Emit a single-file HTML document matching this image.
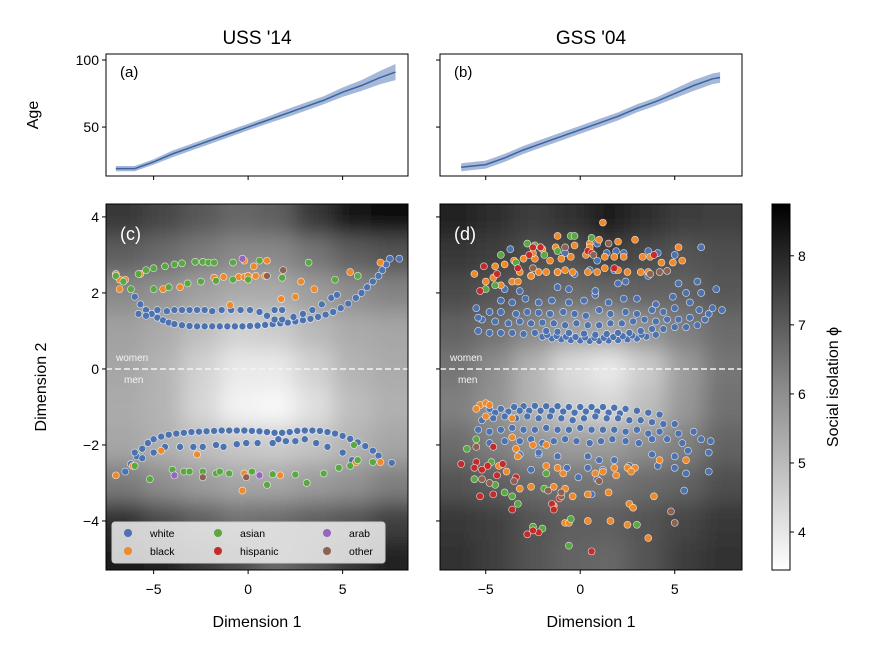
<!DOCTYPE html>
<html><head><meta charset="utf-8"><style>
html,body{margin:0;padding:0;background:#fff;}
svg{display:block;font-family:"Liberation Sans","DejaVu Sans",sans-serif;}
</style></head><body>
<svg id="fig" width="870" height="654" viewBox="0 0 870 654" xmlns="http://www.w3.org/2000/svg">
<defs>
<clipPath id="clipC"><rect x="106" y="204" width="302" height="366"/></clipPath>
<clipPath id="clipD"><rect x="440" y="204" width="302" height="366"/></clipPath>
<filter id="blur" filterUnits="userSpaceOnUse" x="0" y="100" width="870" height="554"><feGaussianBlur stdDeviation="11"/></filter>
<linearGradient id="cbgrad" x1="0" y1="1" x2="0" y2="0"><stop offset="0" stop-color="#ffffff"/><stop offset="0.5" stop-color="#8a8a8a"/><stop offset="1" stop-color="#000000"/></linearGradient>
</defs>
</svg>
<script>
// ---- data ----
const heatRowsY = [4,3,2,1,0,-1,-2,-3,-4,-5];
const heatColsX = [-6.5,-4.5,-2.5,-0.5,1.5,3.5,5.5,7.5];
const heatC = [
[7.6,7.3,6.9,6.6,6.8,7.6,8.3,8.6],
[6.8,6.5,6.2,5.9,5.9,6.3,6.8,7.0],
[5.9,5.7,5.4,5.2,5.2,5.5,5.8,6.0],
[5.4,5.2,4.8,4.4,4.5,4.9,5.2,5.3],
[5.3,5.0,4.4,3.9,3.9,4.4,5.0,5.2],
[5.2,5.0,4.3,3.7,3.6,4.1,4.8,5.1],
[5.3,5.1,4.8,4.6,4.5,4.7,5.0,5.3],
[6.2,5.8,5.5,5.3,5.3,5.5,5.7,6.1],
[7.8,7.2,6.8,6.4,6.5,6.8,7.0,7.4],
[8.2,8.0,7.6,7.2,6.6,7.0,7.6,8.0]];
const heatD = [
[8.0,7.8,7.5,7.7,8.2,7.8,7.5,7.4],
[7.6,7.4,7.1,7.1,7.4,7.2,7.0,7.1],
[7.2,7.0,6.7,6.5,6.6,6.7,6.7,6.9],
[6.7,6.4,5.9,5.4,5.3,5.7,6.1,6.5],
[6.3,5.8,5.0,4.2,3.9,4.5,5.5,6.3],
[6.1,5.7,5.0,4.5,4.3,4.8,5.6,6.4],
[6.5,6.1,5.7,5.5,5.5,5.8,6.1,6.7],
[7.0,6.8,6.5,6.3,6.3,6.5,6.7,7.1],
[7.6,7.4,7.0,6.8,6.8,7.0,7.3,7.6],
[7.7,7.4,7.0,6.7,6.6,7.0,7.5,7.7]];

const ageXA = [-7,-6,-5,-4,-3,-2,-1,0,1,2,3,4,5,6,7,7.8];
const ageYA = [19,19,24,30,35,40,45,50,55,60,65,70,76,81,87,91];
const ageErrA = [2,2,2,2.5,2.5,2.5,2.5,2.5,2.5,3,3,3,3.5,4,5,6];
const ageXB = [-6.3,-5,-4,-3,-2,-1,0,1,2,3,4,5,6,7,7.4];
const ageYB = [20,22,27,33,38,43,48,53,58,64,69,75,81,86,87];
const ageErrB = [3,3,3,3,3,3,3,3,3,3,3,3.5,4,4,4];

const xTicks = [-5,0,5];
const yTicksBottom = [4,2,0,-2,-4];
const yTicksTop = [50,100];
const cbTicks = [4,5,6,7,8];

const cWhite = [[-6.0,1.9],[-5.7,1.7],[-5.4,1.55],[-5.1,1.45],[-4.8,1.35],[-4.5,1.28],[-4.2,1.22],[-3.9,1.18],[-3.5,1.15],[-3.1,1.13],[-2.7,1.12],[-2.3,1.12],[-1.9,1.12],[-1.5,1.12],[-1.1,1.12],[-0.7,1.12],[-0.3,1.12],[0.1,1.13],[0.5,1.14],[0.9,1.16],[1.3,1.18],[1.7,1.2],[2.1,1.22],[2.5,1.25],[2.9,1.28],[3.3,1.32],[3.7,1.37],[4.1,1.43],[4.5,1.5],[4.9,1.6],[5.3,1.72],[5.7,1.87],[6.0,2.0],[6.3,2.15],[6.6,2.3],[6.9,2.45],[7.1,2.6],[7.3,2.75],[7.5,2.9],[8.0,2.9],
[-5.8,1.45],[-5.4,1.4],[-4.8,1.55],[-4.3,1.52],[-3.9,1.55],[-3.5,1.55],[-3.1,1.55],[-2.7,1.55],[-2.3,1.55],[-1.9,1.52],[-1.4,1.55],[-0.9,1.55],[-0.4,1.55],[0.1,1.55],[0.6,1.5],[1.0,1.4],[1.4,1.55],[1.8,1.55],[1.4,1.3],[1.8,1.3],[2.4,1.37],[2.9,1.45],[3.4,1.55],[3.9,1.7],[4.4,1.87],[4.7,1.95],
[-6.5,-2.7],[-6.2,-2.5],[-5.9,-2.3],[-5.6,-2.1],[-5.3,-1.95],[-5.0,-1.85],[-4.6,-1.78],[-4.2,-1.73],[-3.8,-1.7],[-3.4,-1.68],[-3.0,-1.66],[-2.6,-1.65],[-2.2,-1.64],[-1.8,-1.63],[-1.4,-1.62],[-1.0,-1.62],[-0.6,-1.62],[-0.2,-1.62],[0.2,-1.63],[0.6,-1.64],[1.0,-1.66],[1.4,-1.68],[1.8,-1.68],[2.2,-1.66],[2.6,-1.63],[3.0,-1.62],[3.4,-1.62],[3.8,-1.63],[4.2,-1.66],[4.6,-1.7],[5.0,-1.76],[5.4,-1.84],[5.8,-1.93],[6.2,-2.03],[6.6,-2.15],[6.9,-2.28],[7.6,-2.47],
[-6.0,-2.2],[-5.6,-2.35],[-5.0,-2.2],[-4.4,-2.05],[-3.6,-2.05],[-2.9,-2.05],[-2.4,-2.05],[-1.7,-2.0],[-1.3,-2.05],[-0.6,-1.98],[-0.1,-1.95],[0.5,-1.95],[1.3,-1.95],[1.6,-1.85],[2.0,-1.9],[2.5,-1.9],[3.0,-1.85],[3.6,-1.95],[4.2,-2.05],[5.0,-2.2],[5.5,-2.4]];
const cBlack = [[-7.0,2.5],[-6.8,2.35],[-6.5,2.35],[-6.8,2.1],[-5.7,2.5],[-4.5,2.1],[-3.6,2.15],[-1.8,2.4],[-1.3,2.42],[-0.5,2.42],[-0.2,2.42],[0.0,2.45],[0.4,2.45],[0.9,2.45],[1.0,2.85],[-0.2,2.85],[0.3,2.7],[2.8,2.3],[3.5,2.1],[5.4,2.55],[7.0,2.8],[-0.95,1.68],[1.75,1.84],[2.5,1.9],
[-7.0,-2.8],[-6.1,-2.55],[-4.6,-2.15],[-2.7,-2.25],[-0.3,-3.2],[-0.2,-2.75],[1.7,-2.8],[5.7,-2.45],[7.0,-2.45]];
const cAsian = [[-7.0,2.45],[-6.6,2.3],[-5.8,2.5],[-5.4,2.6],[-5.0,2.65],[-4.4,2.7],[-3.9,2.75],[-3.5,2.78],[-2.8,2.82],[-2.4,2.82],[-2.1,2.8],[-1.8,2.8],[-0.8,2.8],[0.6,2.85],[-6.2,2.1],[-5.0,2.1],[-4.2,2.15],[-3.2,2.25],[-2.5,2.3],[-1.7,2.32],[-0.8,2.35],[0.0,2.35],[1.8,2.4],[3.2,2.8],[4.6,2.35],[5.8,2.45],
[-6.0,-2.55],[-5.2,-2.9],[-4.0,-2.65],[-3.4,-2.7],[-3.1,-2.7],[-2.4,-2.7],[-1.7,-2.75],[-1.5,-2.7],[-1.0,-2.75],[0.2,-2.7],[1.0,-3.05],[1.3,-2.77],[2.5,-2.78],[3.1,-3.0],[4.0,-2.75],[4.8,-2.6],[5.4,-2.55],[5.6,-2.0],[5.8,-2.4],[6.6,-2.45]];
const cHisp = [];
const cArab = [[-0.3,2.9],[-3.9,-2.8],[0.6,-2.8]];
const cOther = [[1.0,2.45],[1.85,2.6],[-2.4,-2.85],[-0.1,-2.85]];

const dWhite = [[-2,0.85],[-1.5,0.8],[-1,0.78],[-0.5,0.76],[0,0.75],[0.5,0.74],[1,0.74],[1.5,0.75],[2,0.76],[2.5,0.78],[3,0.8],[3.5,0.85],[4,0.9],
[-1.75,0.9],[-1.25,0.87],[-0.75,0.85],[-0.25,0.84],[0.25,0.83],[0.75,0.82],[1.25,0.82],[1.75,0.84],[2.25,0.86],[2.75,0.88],[3.25,0.9],
[-5.4,1.0],[-4.8,0.95],[-4.2,0.95],[-3.6,0.95],[-3,0.92],[-2.4,0.95],[-1.8,1.0],[-1.2,0.98],[-0.6,0.95],[0.2,0.93],[0.8,0.9],[1.4,0.92],[2.0,0.95],[2.6,0.95],[3.2,1.0],[3.8,1.05],[4.4,1.05],[5,1.1],[5.6,1.1],[6.2,1.15],[6.6,1.3],
[-5.2,1.3],[-4.5,1.25],[-3.8,1.2],[-3.2,1.25],[-2.6,1.2],[-2,1.22],[-1.4,1.2],[-0.8,1.15],[-0.2,1.2],[0.4,1.15],[1,1.15],[1.6,1.2],[2.2,1.2],[2.8,1.25],[3.4,1.3],[4,1.25],[4.6,1.3],[5.2,1.3],[5.8,1.35],[6.8,1.45],
[-5.5,1.6],[-4.8,1.5],[-4.2,1.5],[-3.4,1.45],[-2.8,1.5],[-2.2,1.48],[-1.6,1.45],[-0.9,1.5],[-0.3,1.45],[0.3,1.4],[1.0,1.55],[1.6,1.45],[2.4,1.5],[3.0,1.45],[3.8,1.55],[4.4,1.5],[5,1.6],[5.8,1.75],[6.3,1.55],[7.0,1.6],[7.5,1.55],
[-4.2,1.8],[-3.6,1.75],[-2.9,1.85],[-2.2,1.75],[-1.5,1.8],[-0.6,1.75],[0.2,1.8],[0.8,1.95],[1.5,1.75],[2.3,1.85],[3,1.85],[4.0,1.7],[4.9,1.9],[5.6,2.0],[6.4,2.0],[7.2,2.1],
[-3.2,2.05],[-4.0,2.1],[-1.2,2.15],[-0.6,2.1],[0.8,2.05],[2.0,2.25],[2.4,2.3],[-2.6,2.45],[-1.2,2.55],[-0.3,2.5],[0.5,2.6],[1.8,2.6],[3.6,2.45],[5.2,2.25],[6.2,2.3],[0.9,2.85],[-0.8,3.05],[-3.7,3.15],[1.4,3.05],[2.3,3.05],[3.6,3.1],[4.1,3.05],[6.4,3.2],[5.0,3.0],[-5.4,1.35],[1.9,3.1],[0.9,3.3],
[-4.8,-1.05],[-4.2,-1.05],[-3.5,-1.0],[-3.0,-0.98],[-2.4,-0.97],[-1.8,-0.98],[-1.2,-0.98],[-0.6,-1.0],[0,-1.0],[0.6,-1.0],[1.2,-1.0],[1.8,-1.02],[2.4,-1.05],[3.0,-1.1],[3.6,-1.15],[4.2,-1.2],
[-4.5,-1.15],[-3.8,-1.12],[-3.2,-1.1],[-2.7,-1.1],[-2.1,-1.1],[-1.5,-1.1],[-0.9,-1.12],[-0.3,-1.15],[0.3,-1.12],[0.9,-1.12],[1.5,-1.15],[2.1,-1.17],
[-5.2,-1.35],[-4.6,-1.3],[-4.0,-1.25],[-3.4,-1.3],[-2.8,-1.25],[-2.2,-1.3],[-1.6,-1.25],[-1.0,-1.3],[-0.4,-1.35],[0.2,-1.3],[0.8,-1.25],[1.4,-1.3],[2.0,-1.3],[2.6,-1.35],[3.2,-1.35],[3.8,-1.4],[4.4,-1.45],[5.0,-1.45],
[-5.4,-1.6],[-4.8,-1.65],[-4.2,-1.6],[-3.6,-1.55],[-3.0,-1.6],[-2.4,-1.6],[-1.8,-1.55],[-1.2,-1.6],[-0.6,-1.6],[0.0,-1.55],[0.6,-1.6],[1.2,-1.6],[1.8,-1.6],[2.4,-1.65],[3.0,-1.6],[3.6,-1.7],[4.2,-1.65],[5.2,-1.7],[6.0,-1.65],
[-4.8,-1.95],[-4.0,-1.9],[-3.2,-1.9],[-2.6,-1.85],[-2.0,-1.95],[-1.4,-1.9],[-0.8,-1.85],[-0.2,-1.9],[0.5,-1.95],[1.1,-1.9],[1.7,-1.85],[2.4,-1.9],[3.1,-1.95],[3.8,-1.85],[4.6,-1.85],[5.4,-1.95],[6.4,-1.85],[6.9,-1.9],
[-3.2,-2.25],[-2.2,-2.25],[-1.2,-2.3],[0.4,-2.3],[1.0,-2.4],[1.8,-2.4],[3.8,-2.25],[5.0,-2.3],[5.7,-2.15],[6.8,-2.2],
[-2.6,-2.65],[-0.7,-2.6],[0.4,-2.6],[1.2,-2.65],[2.6,-2.55],[4.1,-2.55],[5.6,-2.75],[6.8,-2.7],[-0.1,-2.85],[0.9,-2.9],[5.0,-2.6],[-2.2,-2.2],[5.5,-3.2],[0.6,-3.3]];
const dBlack = [[-5.6,2.5],[-5.0,2.3],[-4.6,2.4],[-4.2,2.2],[-3.6,2.3],[-3.3,2.3],[-4.5,2.7],[-4.0,2.75],[-3.2,2.55],[-2.6,2.45],[-2.2,2.55],[-1.8,2.55],[-1.2,2.55],[-0.8,2.6],[-0.4,2.55],[0.4,2.55],[0.9,2.55],[1.3,2.65],[2.0,2.6],[2.5,2.55],[3.2,2.55],[3.6,2.55],[4.3,2.8],[4.9,2.8],[5.4,2.85],[-3.0,2.9],[-2.4,2.9],[-1.6,2.85],[-0.5,2.95],[0.3,3.0],[1.3,2.95],[1.8,2.95],[2.3,2.95],[3.3,2.95],[3.7,2.95],[-2.0,3.15],[-1.3,3.2],[-0.3,3.25],[0.5,3.3],[2.0,3.35],[2.9,3.4],[5.2,3.2],[-1.2,3.5],[1.0,3.4],[1.2,3.85],[0.5,3.2],[-2.5,3.05],[-3.5,2.85],[-1.0,2.9],
[-5.3,-0.95],[-5.0,-0.9],[-4.8,-0.95],[-5.5,-1.05],[-5.0,-1.25],[-3.6,-1.3],[-3.6,-1.8],[-3.4,-2.1],[-2.5,-2.0],[-1.8,-2.0],[-4.3,-2.55],[-3.9,-2.7],[-3.2,-3.15],[-2.6,-3.1],[-1.8,-2.55],[-1.2,-2.6],[-0.9,-2.75],[-0.8,-3.15],[-0.4,-3.35],[-1.4,-3.1],[0.4,-3.3],[0.8,-2.75],[1.2,-2.7],[1.8,-2.6],[1.9,-2.8],[2.5,-2.6],[2.9,-2.6],[2.7,-2.7],[1.5,-3.25],[2.6,-3.55],[2.8,-3.65],[1.6,-4.0],[0.4,-4.0],[2.5,-4.1],[3.9,-3.35],[3.6,-4.45],[-0.8,-4.05],[-0.6,-4.05],[-1.4,-3.6],[5.6,-2.4],[4.2,-2.4],[-3.3,-2.3]];
const dAsian = [[-4.5,2.2],[-5.0,2.1],[-4.2,3.0],[-3.4,2.8],[-2.8,3.3],[-2.4,3.25],[-1.9,3.0],[-1.2,3.1],[-0.5,3.5],[-0.3,3.5],[0.6,3.45],[-2.1,3.2],
[-5.5,-1.85],[-6.0,-2.1],[-5.6,-2.9],[-4.7,-2.45],[-4.5,-3.05],[-4.0,-3.25],[-3.3,-3.55],[-3.6,-3.35],[-1.9,-3.15],[-1.8,-2.75],[-2.5,-4.15],[-2.0,-4.2],[-0.6,-4.65],[3.0,-4.1],[-0.5,-3.95]];
const dHisp = [[-5.3,2.05],[-5.1,2.7],[-4.4,2.5],[-3.3,2.65],[-2.7,3.0],[-2.5,3.2],[-2.1,3.2],[0.4,3.1],[1.8,2.65],[3.9,3.0],[0.6,3.05],
[-6.3,-2.5],[-5.5,-2.45],[-5.2,-2.65],[-5.6,-2.6],[-4.9,-2.55],[-4.6,-2.05],[-4.1,-2.5],[-5.3,-3.35],[-4.6,-3.3],[-3.6,-3.7],[-4.4,-2.8],[-3.4,-2.85],[-1.5,-3.55],[-1.4,-3.7],[-1.1,-3.4],[-2.8,-4.35],[-2.2,-4.3],[-2.5,-4.25],[0.6,-4.8]];
const dArab = [];
const dOther = [[-2.5,2.65],[-0.8,3.2],[0.7,3.0],[1.5,3.3],[3.7,2.5],[4.2,2.55],[4.6,2.58],
[-5.5,-2.05],[-5.2,-2.9],[-4.8,-3.0],[-3.5,-2.95],[-1.7,-3.2],[-1.0,-3.35],[-1.0,-3.25],[1.0,-2.95],[4.8,-3.75],[5.0,-4.05]];

const groupNames = ['white','black','asian','hispanic','arab','other'];
const groupColors = ['#4c72b0','#ef8a2c','#5ba843','#c42b2b','#9467bd','#8c6253'];

// ---- helpers ----
const NS='http://www.w3.org/2000/svg';
const svg=document.getElementById('fig');
function mk(tag,attrs,parent){const e=document.createElementNS(NS,tag);for(const k in attrs)e.setAttribute(k,attrs[k]);(parent||svg).appendChild(e);return e;}
function txt(s,attrs,parent){const e=mk('text',attrs,parent);e.textContent=s;return e;}

const panels = {
 a:{x0:106,x1:408,y0:54,y1:176,xmin:-7.52,xmax:8.46,ymin:13.5,ymax:104.5},
 b:{x0:440,x1:742,y0:54,y1:176,xmin:-7.42,xmax:8.56,ymin:13.5,ymax:104.5},
 c:{x0:106,x1:408,y0:204,y1:570,xmin:-7.52,xmax:8.46,ymin:-5.29,ymax:4.34},
 d:{x0:440,x1:742,y0:204,y1:570,xmin:-7.42,xmax:8.56,ymin:-5.29,ymax:4.34}};
function sx(p,v){return p.x0+(v-p.xmin)/(p.xmax-p.xmin)*(p.x1-p.x0);}
function sy(p,v){return p.y1-(v-p.ymin)/(p.ymax-p.ymin)*(p.y1-p.y0);}
function grayOf(v){const t=Math.max(0,Math.min(1,(v-3.45)/5.3));const g=Math.round(255*(1-t));return 'rgb('+g+','+g+','+g+')';}

// ---- heatmaps ----
function heat(p,grid,clip,name){
 const cg=mk('g',{'clip-path':'url(#'+clip+')'});
 
 
 const g=mk('g',{filter:'url(#blur)'},cg);
 for(let r=0;r<heatRowsY.length;r++){for(let c=0;c<heatColsX.length;c++){
  let xa=sx(p,heatColsX[c]-1),xb=sx(p,heatColsX[c]+1),ya=sy(p,heatRowsY[r]+0.5),yb=sy(p,heatRowsY[r]-0.5);
  if(c===0)xa-=40; if(c===heatColsX.length-1)xb+=40; if(r===0)ya-=40; if(r===heatRowsY.length-1)yb+=40;
  const e=mk('rect',{x:xa,y:ya,width:xb-xa+0.5,height:yb-ya+0.5,fill:grayOf(grid[r][c])},g);
  
  
 }}
}
heat(panels.c,heatC,'clipC','heatmap-c');
heat(panels.d,heatD,'clipD','heatmap-d');

// divider lines
for(const k of ['c','d']){const p=panels[k];
 const l=mk('line',{x1:p.x0,x2:p.x1,y1:sy(p,0),y2:sy(p,0),stroke:'#f4f4f4','stroke-width':1.5,'stroke-dasharray':'6,3'});
 
 
 const w=txt('women',{x:p.x0+10,y:sy(p,0)-8,fill:'#f4f4f4','font-size':10});
 
 
 const m=txt('men',{x:p.x0+18,y:sy(p,0)+14,fill:'#f4f4f4','font-size':10});
 
 
}

// ---- scatter ----
function scatter(p,sets,clip,name){
 const g=mk('g',{'clip-path':'url(#'+clip+')'});
 
 
 sets.forEach((pts,gi)=>{pts.forEach(pt=>{
  const c=mk('circle',{cx:sx(p,pt[0]),cy:sy(p,pt[1]),r:3.5,fill:groupColors[gi],stroke:'#ffffff','stroke-width':0.6,'stroke-opacity':0.8},g);
  
  
 });});
}
scatter(panels.c,[cWhite,cBlack,cAsian,cHisp,cArab,cOther],'clipC','scatter-c');
scatter(panels.d,[dWhite,dBlack,dAsian,dHisp,dArab,dOther],'clipD','scatter-d');

// ---- age lines ----
function ageLine(p,xs,ys,es,name){
 let up='',lo='',ln='';
 xs.forEach((x,i)=>{up+=(i?'L':'M')+sx(p,x)+','+sy(p,ys[i]+es[i]);ln+=(i?'L':'M')+sx(p,x)+','+sy(p,ys[i]);});
 for(let i=xs.length-1;i>=0;i--)lo+='L'+sx(p,xs[i])+','+sy(p,ys[i]-es[i]);
 const b=mk('path',{d:up+lo+'Z',fill:'#4c72b0','fill-opacity':0.5,stroke:'none'});
 
 
 const l=mk('path',{d:ln,fill:'none',stroke:'#3b63a3','stroke-width':1.5});
 
 
}
ageLine(panels.a,ageXA,ageYA,ageErrA,'age-uss');
ageLine(panels.b,ageXB,ageYB,ageErrB,'age-gss');

// ---- frames & ticks ----
function frame(p,k,showX,showYLabels,yTicks){
 const f=mk('rect',{x:p.x0,y:p.y0,width:p.x1-p.x0,height:p.y1-p.y0,fill:'none',stroke:'#000','stroke-width':1});
 
 
 xTicks.forEach(t=>{const x=sx(p,t);
  const tl=mk('line',{x1:x,x2:x,y1:p.y1,y2:p.y1+4,stroke:'#000'});
  
  
  if(showX){const tt=txt(t<0?'\u2212'+(-t):''+t,{x:x,y:p.y1+24,'text-anchor':'middle','font-size':14});
   
   }
 });
 yTicks.forEach(t=>{const y=sy(p,t);
  const tl=mk('line',{x1:p.x0-4,x2:p.x0,y1:y,y2:y,stroke:'#000'});
  
  
  if(showYLabels){const tt=txt(t<0?'\u2212'+(-t):''+t,{x:p.x0-7,y:y+5,'text-anchor':'end','font-size':14});
   
   }
 });
}
frame(panels.a,'a',false,true,yTicksTop);
frame(panels.b,'b',false,false,yTicksTop);
frame(panels.c,'c',true,true,yTicksBottom);
frame(panels.d,'d',true,false,yTicksBottom);

// ---- colorbar ----
const cbp={x0:772,x1:790,y0:204,y1:570,ymin:3.45,ymax:8.75};
const cbr=mk('rect',{x:772,y:204,width:18,height:366,fill:'url(#cbgrad)',stroke:'#000','stroke-width':1});


cbTicks.forEach(t=>{const y=cbp.y1-(t-cbp.ymin)/(cbp.ymax-cbp.ymin)*366;
 const tl=mk('line',{x1:790,x2:794,y1:y,y2:y,stroke:'#000'});
 
 
 const tt=txt(''+t,{x:798,y:y+5,'font-size':14});
 
 
});
</script>
<script>
// static labels
(function(){
const NS='http://www.w3.org/2000/svg';const svg=document.getElementById('fig');
function t(s,a,name){const e=document.createElementNS(NS,'text');for(const k in a)e.setAttribute(k,a[k]);e.textContent=s;svg.appendChild(e);
 
 return e;}
t("USS '14",{x:257,y:44,'text-anchor':'middle','font-size':19},'title-uss');
t("GSS '04",{x:591,y:44,'text-anchor':'middle','font-size':19},'title-gss');
t('(a)',{x:120,y:77,'font-size':15},'panel-label-a');
t('(b)',{x:454,y:77,'font-size':15},'panel-label-b');
t('(c)',{x:120,y:240,'font-size':18,fill:'#fff'},'panel-label-c');
t('(d)',{x:454,y:240,'font-size':18,fill:'#fff'},'panel-label-d');
t('Age',{x:38,y:115,'text-anchor':'middle','font-size':16,transform:'rotate(-90 38 115)'},'y-axis-title-age');
t('Dimension 2',{x:46,y:387,'text-anchor':'middle','font-size':16,transform:'rotate(-90 46 387)'},'y-axis-title-dim2');
t('Dimension 1',{x:257,y:627,'text-anchor':'middle','font-size':16},'x-axis-title-c');
t('Dimension 1',{x:591,y:627,'text-anchor':'middle','font-size':16},'x-axis-title-d');
t('Social isolation \u03d5',{x:838,y:387,'text-anchor':'middle','font-size':16,transform:'rotate(-90 838 387)'},'colorbar-title');
// legend
const g=document.createElementNS(NS,'g');svg.appendChild(g);


const bg=document.createElementNS(NS,'rect');
[['x',112],['y',522],['width',273],['height',41],['rx',3],['fill','#f0f0f0'],['fill-opacity',0.85],['stroke','#cccccc']].forEach(a=>bg.setAttribute(a[0],a[1]));g.appendChild(bg);


const names=['white','asian','arab','black','hispanic','other'];
const cols=['#4c72b0','#5ba843','#9467bd','#ef8a2c','#c42b2b','#8c6253'];
const cx=[128,218,327];const rows=[533,551];
names.forEach((n,i)=>{const c=document.createElementNS(NS,'circle');
 c.setAttribute('cx',cx[i%3]);c.setAttribute('cy',rows[Math.floor(i/3)]);c.setAttribute('r',4);c.setAttribute('fill',cols[i]);g.appendChild(c);
 
 
 const tx=document.createElementNS(NS,'text');tx.setAttribute('x',cx[i%3]+22);tx.setAttribute('y',rows[Math.floor(i/3)]+4);tx.setAttribute('font-size',10.5);tx.textContent=n;g.appendChild(tx);
 
 
});
})();
</script>
</body></html>
